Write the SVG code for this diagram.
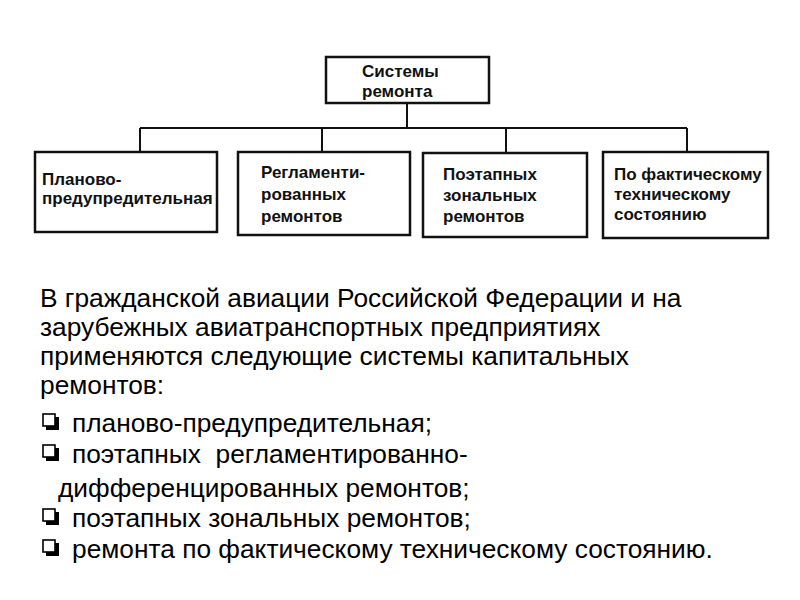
<svg xmlns="http://www.w3.org/2000/svg" width="800" height="600" viewBox="0 0 800 600">
<style>
.box{fill:#fff;stroke:#111;stroke-width:2.5}
.con{fill:none;stroke:#111;stroke-width:2}
.bt{font-family:"Liberation Sans",Arial,sans-serif;font-size:17px;font-weight:bold;fill:#111}
.mt{font-family:"Liberation Sans",Arial,sans-serif;font-size:26.3px;fill:#000}
.cb{fill:#fff;stroke:#000;stroke-width:1.6}
.cbs{fill:#000}
</style>
<rect width="800" height="600" fill="#fff"/>
<g id="connectors">
<path class="con" d="M407 103V128M140 128H687M140 128V152M322 128V152M506 128V153M687 128V152"/>
</g>
<g id="root">
<rect class="box" x="326" y="57" width="163" height="46"/>
<text class="bt" x="362" y="77">Системы</text>
<text class="bt" x="362" y="97">ремонта</text>
</g>
<g id="n1">
<rect class="box" x="35" y="152" width="182" height="80"/>
<text class="bt" x="42" y="185">Планово-</text>
<text class="bt" x="42" y="204">предупредительная</text>
</g>
<g id="n2">
<rect class="box" x="238" y="152" width="172" height="83"/>
<text class="bt" x="261" y="178">Регламенти-</text>
<text class="bt" x="261" y="200">рованных</text>
<text class="bt" x="261" y="222">ремонтов</text>
</g>
<g id="n3">
<rect class="box" x="423" y="153" width="164" height="84"/>
<text class="bt" x="443" y="180">Поэтапных</text>
<text class="bt" x="443" y="201">зональных</text>
<text class="bt" x="443" y="222">ремонтов</text>
</g>
<g id="n4">
<rect class="box" x="603" y="152" width="165" height="86"/>
<text class="bt" x="614" y="180">По фактическому</text>
<text class="bt" x="614" y="200">техническому</text>
<text class="bt" x="614" y="220">состоянию</text>
</g>
<g id="text">
<text class="mt" x="40" y="307">В гражданской авиации Российской Федерации и на</text>
<text class="mt" x="40" y="336">зарубежных авиатранспортных предприятиях</text>
<text class="mt" x="40" y="365">применяются следующие системы капитальных</text>
<text class="mt" x="40" y="394">ремонтов:</text>
<g id="bullets">
<rect class="cbs" x="46" y="417" width="13" height="13"/>
<rect class="cb" x="43" y="414" width="12" height="12"/>
<rect class="cbs" x="46" y="448" width="13" height="13"/>
<rect class="cb" x="43" y="445" width="12" height="12"/>
<rect class="cbs" x="46" y="512" width="13" height="13"/>
<rect class="cb" x="43" y="509" width="12" height="12"/>
<rect class="cbs" x="46" y="543" width="13" height="13"/>
<rect class="cb" x="43" y="540" width="12" height="12"/>
</g>
<text class="mt" x="72" y="432">планово-предупредительная;</text>
<text class="mt" x="72" y="463" xml:space="preserve">поэтапных  регламентированно-</text>
<text class="mt" x="58" y="497">дифференцированных ремонтов;</text>
<text class="mt" x="72" y="527">поэтапных зональных ремонтов;</text>
<text class="mt" x="72" y="558">ремонта по фактическому техническому состоянию.</text>
</g>
</svg>
